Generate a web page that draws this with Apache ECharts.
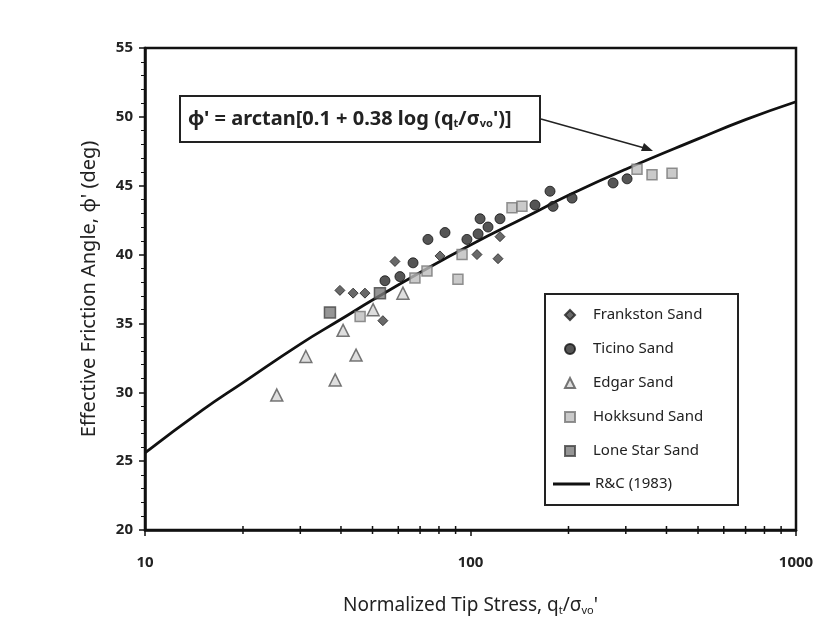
<!DOCTYPE html>
<html><head><meta charset="utf-8">
<script src="https://cdn.jsdelivr.net/npm/echarts@6/dist/echarts.min.js"></script>
<style>html,body{margin:0;padding:0;background:#fff}#c{width:817px;height:621px}</style>
</head><body><div id="c"></div>
<script>
// Data: [qt/σvo', φ' (deg)]
const frankston = [[39.7,37.4],[43.6,37.2],[47.4,37.2],[53.8,35.2],[58.6,39.5],[80.6,39.9],[104.7,40.0],[121.5,39.7],[123.2,41.3]];
const ticino = [[54.6,38.1],[60.7,38.4],[66.6,39.4],[74.0,41.1],[83.5,41.6],[97.5,41.1],[105.5,41.5],[107.0,42.6],[113.2,42.0],[123.2,42.6],[157.8,43.6],[175.5,44.6],[179.3,43.5],[205.1,44.1],[274.2,45.2],[302.7,45.5]];
const edgar = [[25.4,29.8],[31.2,32.6],[38.4,30.9],[40.6,34.5],[44.5,32.7],[50.2,36.0],[62.0,37.2]];
const hokksund = [[45.8,35.5],[67.5,38.3],[73.5,38.8],[91.5,38.2],[94.2,40.0],[134.1,43.4],[143.9,43.5],[324.8,46.2],[361.1,45.8],[416.0,45.9]];
const loneStar = [[37.0,35.8],[52.7,37.2]];
const rcCurve = [[10,25.6],[15,28.7],[20,30.7],[30,33.5],[40,35.3],[50,36.7],[70,38.7],[100,40.7],[150,42.8],[200,44.3],[300,46.2],[500,48.4],[700,49.8],[1000,51.1]];
const xMinorTicks = [20,30,40,50,60,70,80,90,200,300,400,500,600,700,800,900];
const xTickLabels = [10,100,1000];
const yTickLabels = [20,25,30,35,40,45,50,55];
const scatterNames = ['Frankston Sand','Ticino Sand','Edgar Sand','Hokksund Sand','Lone Star Sand'];
const lineName = 'R&C (1983)';

const FONT = 'Noto Sans';
const chart = echarts.init(document.getElementById('c'));
chart.setOption({
  backgroundColor:'#fff',
  animation:false,
  textStyle:{fontFamily:FONT,color:'#222'},
  grid:{left:145,right:21,top:48,bottom:91,show:true,borderColor:'#111',borderWidth:2.5,backgroundColor:'transparent'},
  xAxis:{type:'log',logBase:10,min:xTickLabels[0],max:xTickLabels[xTickLabels.length-1],
    axisLine:{lineStyle:{color:'#111',width:2.5}},
    axisTick:{show:true,inside:false,length:6,lineStyle:{color:'#111',width:1.5}},
    axisLabel:{fontSize:15,color:'#222',margin:25,fontWeight:'bold',formatter:v=>String(v)},
    splitLine:{show:false},
    name:'{n|Normalized Tip Stress, q}{s|t}{n|/σ}{s|vo}{n|\'}',
    nameLocation:'middle',nameGap:66,
    nameTextStyle:{rich:{n:{fontSize:19,color:'#222',fontFamily:FONT},s:{fontSize:11,color:'#222',fontFamily:FONT,padding:[9,0,0,0]}}}
  },
  yAxis:{type:'value',min:yTickLabels[0],max:yTickLabels[yTickLabels.length-1],interval:5,
    axisLine:{show:true,lineStyle:{color:'#111',width:2.5}},
    axisTick:{show:true,length:6,lineStyle:{color:'#111',width:1.5}},
    minorTick:{show:true,splitNumber:5,length:4,lineStyle:{color:'#111',width:1}},
    axisLabel:{fontSize:15,color:'#222',margin:12,fontWeight:'bold'},
    splitLine:{show:false},
    name:'Effective Friction Angle, ϕ\' (deg)',
    nameLocation:'middle',nameGap:46,
    nameTextStyle:{fontSize:20,color:'#222'}
  },
  legend:[
    {orient:'vertical',left:564,top:307,padding:0,
     data:scatterNames,itemWidth:10,itemHeight:10,itemGap:18,
     textStyle:{fontSize:15,lineHeight:16,color:'#222',fontFamily:FONT,padding:[0,0,0,13]}},
    {orient:'vertical',left:553,top:476,padding:0,
     data:[{name:lineName,icon:'rect'}],itemWidth:37,itemHeight:3,
     textStyle:{fontSize:15,lineHeight:16,color:'#222',fontFamily:FONT}}
  ],
  series:[
    {name:lineName,type:'line',data:rcCurve,smooth:true,symbol:'none',z:3,
      lineStyle:{color:'#111',width:2.8},itemStyle:{color:'#111'}},
    {name:'Frankston Sand',type:'scatter',data:frankston,symbol:'diamond',symbolSize:10,z:4,
      itemStyle:{color:'#444',borderColor:'#222',borderWidth:1}},
    {name:'Ticino Sand',type:'scatter',data:ticino,symbol:'circle',symbolSize:10,z:4,
      itemStyle:{color:'#2b2b2b',borderColor:'#111',borderWidth:1}},
    {name:'Edgar Sand',type:'scatter',data:edgar,symbol:'triangle',symbolSize:12,z:4,
      itemStyle:{color:'#d6d6d6',borderColor:'#555',borderWidth:1.5}},
    {name:'Hokksund Sand',type:'scatter',data:hokksund,symbol:'rect',symbolSize:10,z:4,
      itemStyle:{color:'#bdbdbd',borderColor:'#777',borderWidth:1.5}},
    {name:'Lone Star Sand',type:'scatter',data:loneStar,symbol:'rect',symbolSize:11,z:4,
      itemStyle:{color:'#7a7a7a',borderColor:'#444',borderWidth:1.5}},
    {name:'xminor',type:'custom',silent:true,clip:false,z:5,
      data:xMinorTicks.map(v=>[v,yTickLabels[0]]),
      renderItem:function(params,api){
        const p = api.coord([api.value(0),api.value(1)]);
        return {type:'line',shape:{x1:p[0],y1:p[1]-4,x2:p[0],y2:p[1]+4},style:{stroke:'#111',lineWidth:1.5}};
      }}
  ],
  graphic:[
    {type:'rect',shape:{x:545,y:294,width:193,height:211},style:{fill:'#fff',stroke:'#222',lineWidth:2},z:-1,silent:true},
    {type:'rect',shape:{x:180,y:96,width:360,height:46},style:{fill:'#fff',stroke:'#222',lineWidth:2},z:10},
    {type:'text',x:188,y:119,z:11,style:{
      text:'{n|ϕ\' = arctan[0.1 + 0.38 log (q}{s|t}{n|/σ}{s|vo}{n|\')]}',
      verticalAlign:'middle',
      rich:{n:{fontSize:20,fontWeight:'bold',fill:'#222',fontFamily:FONT},s:{fontSize:11,fontWeight:'bold',fill:'#222',fontFamily:FONT,padding:[10,0,0,0]}}
    }},
    {type:'line',shape:{x1:541,y1:119,x2:648,y2:149},style:{stroke:'#222',lineWidth:1.5},z:10},
    {type:'polygon',shape:{points:[[653,151],[641,151],[644,143]]},style:{fill:'#222'},z:10}
  ]
});
</script></body></html>
